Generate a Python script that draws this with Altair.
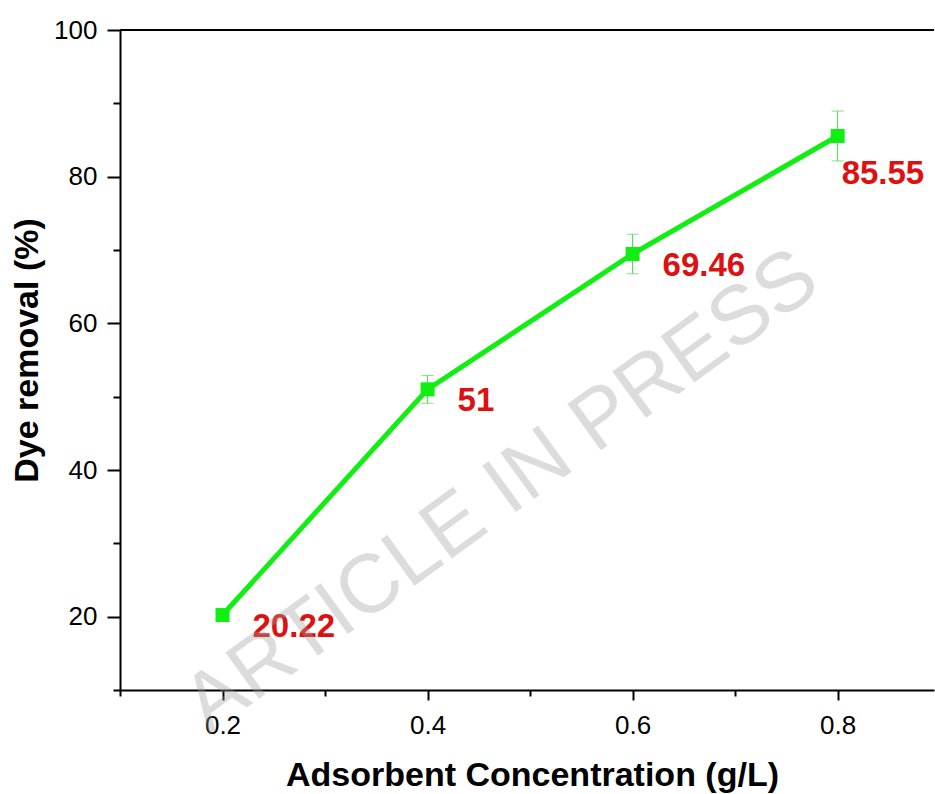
import altair as alt
import pandas as pd

# Dye removal vs. adsorbent dose
concentration = [0.2, 0.4, 0.6, 0.8]          # g/L
removal = [20.22, 51, 69.46, 85.55]            # %
removal_err = [0.6, 1.9, 2.7, 3.4]             # % (error bar half-width)

x_tick_values = [0.1, 0.2, 0.3, 0.4, 0.5, 0.6, 0.7, 0.8]
y_tick_values = [10, 20, 30, 40, 50, 60, 70, 80, 90, 100]

watermark = ["ARTICLE IN PRESS"]

FONT = "Liberation Sans, Arial, sans-serif"
GREEN = "#11ee11"
ERR_GREEN = "#44dd44"
RED = "#dd1111"
PLOT_W = 814
PLOT_H = 660

df = pd.DataFrame({"conc": concentration, "removal": removal, "err": removal_err})

major_x = "round(datum.value * 10) % 2 == 0"
major_y = "datum.value % 20 == 0"

x_enc = alt.X(
    "conc:Q",
    scale=alt.Scale(domain=[0.1, 0.894], nice=False, zero=False),
    axis=alt.Axis(
        values=x_tick_values,
        labelExpr=f"{major_x} ? format(datum.value, '.1f') : ''",
        tickSize={"condition": {"test": major_x, "value": 10}, "value": 6},
        labelPadding=12,
        title="Adsorbent Concentration (g/L)",
        titleX=412,
        titleY=95,
        titleAlign="center",
        titleBaseline="alphabetic",
    ),
)

y_enc = alt.Y(
    "removal:Q",
    scale=alt.Scale(domain=[10, 100], nice=False, zero=False),
    axis=alt.Axis(
        values=y_tick_values,
        labelExpr=f"{major_y} ? datum.label : ''",
        tickSize={"condition": {"test": major_y, "value": 13}, "value": 7},
        labelPadding=10,
        title="Dye removal (%)",
        titleX=-83,
        titleY=320,
        titleAngle=270,
        titleAlign="center",
        titleBaseline="alphabetic",
    ),
)

base = alt.Chart(df).transform_calculate(
    lo="datum.removal - datum.err", hi="datum.removal + datum.err"
)

line = base.mark_line(color=GREEN, strokeWidth=5).encode(x=x_enc, y=y_enc)

err_rule = base.mark_rule(color=ERR_GREEN, strokeWidth=1).encode(
    x="conc:Q", y="lo:Q", y2="hi:Q"
)
cap_lo = base.mark_tick(orient="horizontal", size=12, thickness=1, color=ERR_GREEN).encode(
    x="conc:Q", y="lo:Q"
)
cap_hi = base.mark_tick(orient="horizontal", size=12, thickness=1, color=ERR_GREEN).encode(
    x="conc:Q", y="hi:Q"
)

points = base.mark_square(size=196, color=GREEN, opacity=1).encode(
    x="conc:Q", y="removal:Q"
)

label_style = dict(
    font=FONT, fontSize=33, fontWeight="bold", color=RED, align="left", baseline="middle"
)
labels_right = base.transform_filter("datum.conc < 0.7").mark_text(
    dx=30, dy=12, **label_style
).encode(x="conc:Q", y="removal:Q", text="removal:N")
labels_below = base.transform_filter("datum.conc >= 0.7").mark_text(
    dx=4, dy=38, **label_style
).encode(x="conc:Q", y="removal:Q", text="removal:N")

top_frame = base.mark_rule(color="black", strokeWidth=2).encode(
    x=alt.value(0), x2=alt.value(PLOT_W), y=alt.value(0)
)

stamp = alt.Chart(pd.DataFrame({"wm": watermark})).mark_text(
    font=FONT,
    fontSize=83,
    angle=324,
    color="#a0a0a0",
    opacity=0.36,
    align="center",
    baseline="alphabetic",
).encode(text="wm:N", x=alt.value(396), y=alt.value(482))

chart = (
    alt.layer(line, err_rule, cap_lo, cap_hi, points, labels_right, labels_below, top_frame, stamp)
    .properties(
        width=PLOT_W,
        height=PLOT_H,
        autosize=alt.AutoSizeParams(type="none"),
        padding={"left": 120, "top": 30, "right": 1, "bottom": 104},
        background="white",
    )
    .configure_view(stroke=None)
    .configure_axis(
        grid=False,
        domainColor="black",
        domainWidth=2,
        tickColor="black",
        tickWidth=2,
        labelFont=FONT,
        labelFontSize=26,
        labelColor="black",
        titleFont=FONT,
        titleFontSize=34,
        titleFontWeight="bold",
        titleColor="black",
    )
)

chart.save("out.html", embed_options={"renderer": "svg", "actions": False})
